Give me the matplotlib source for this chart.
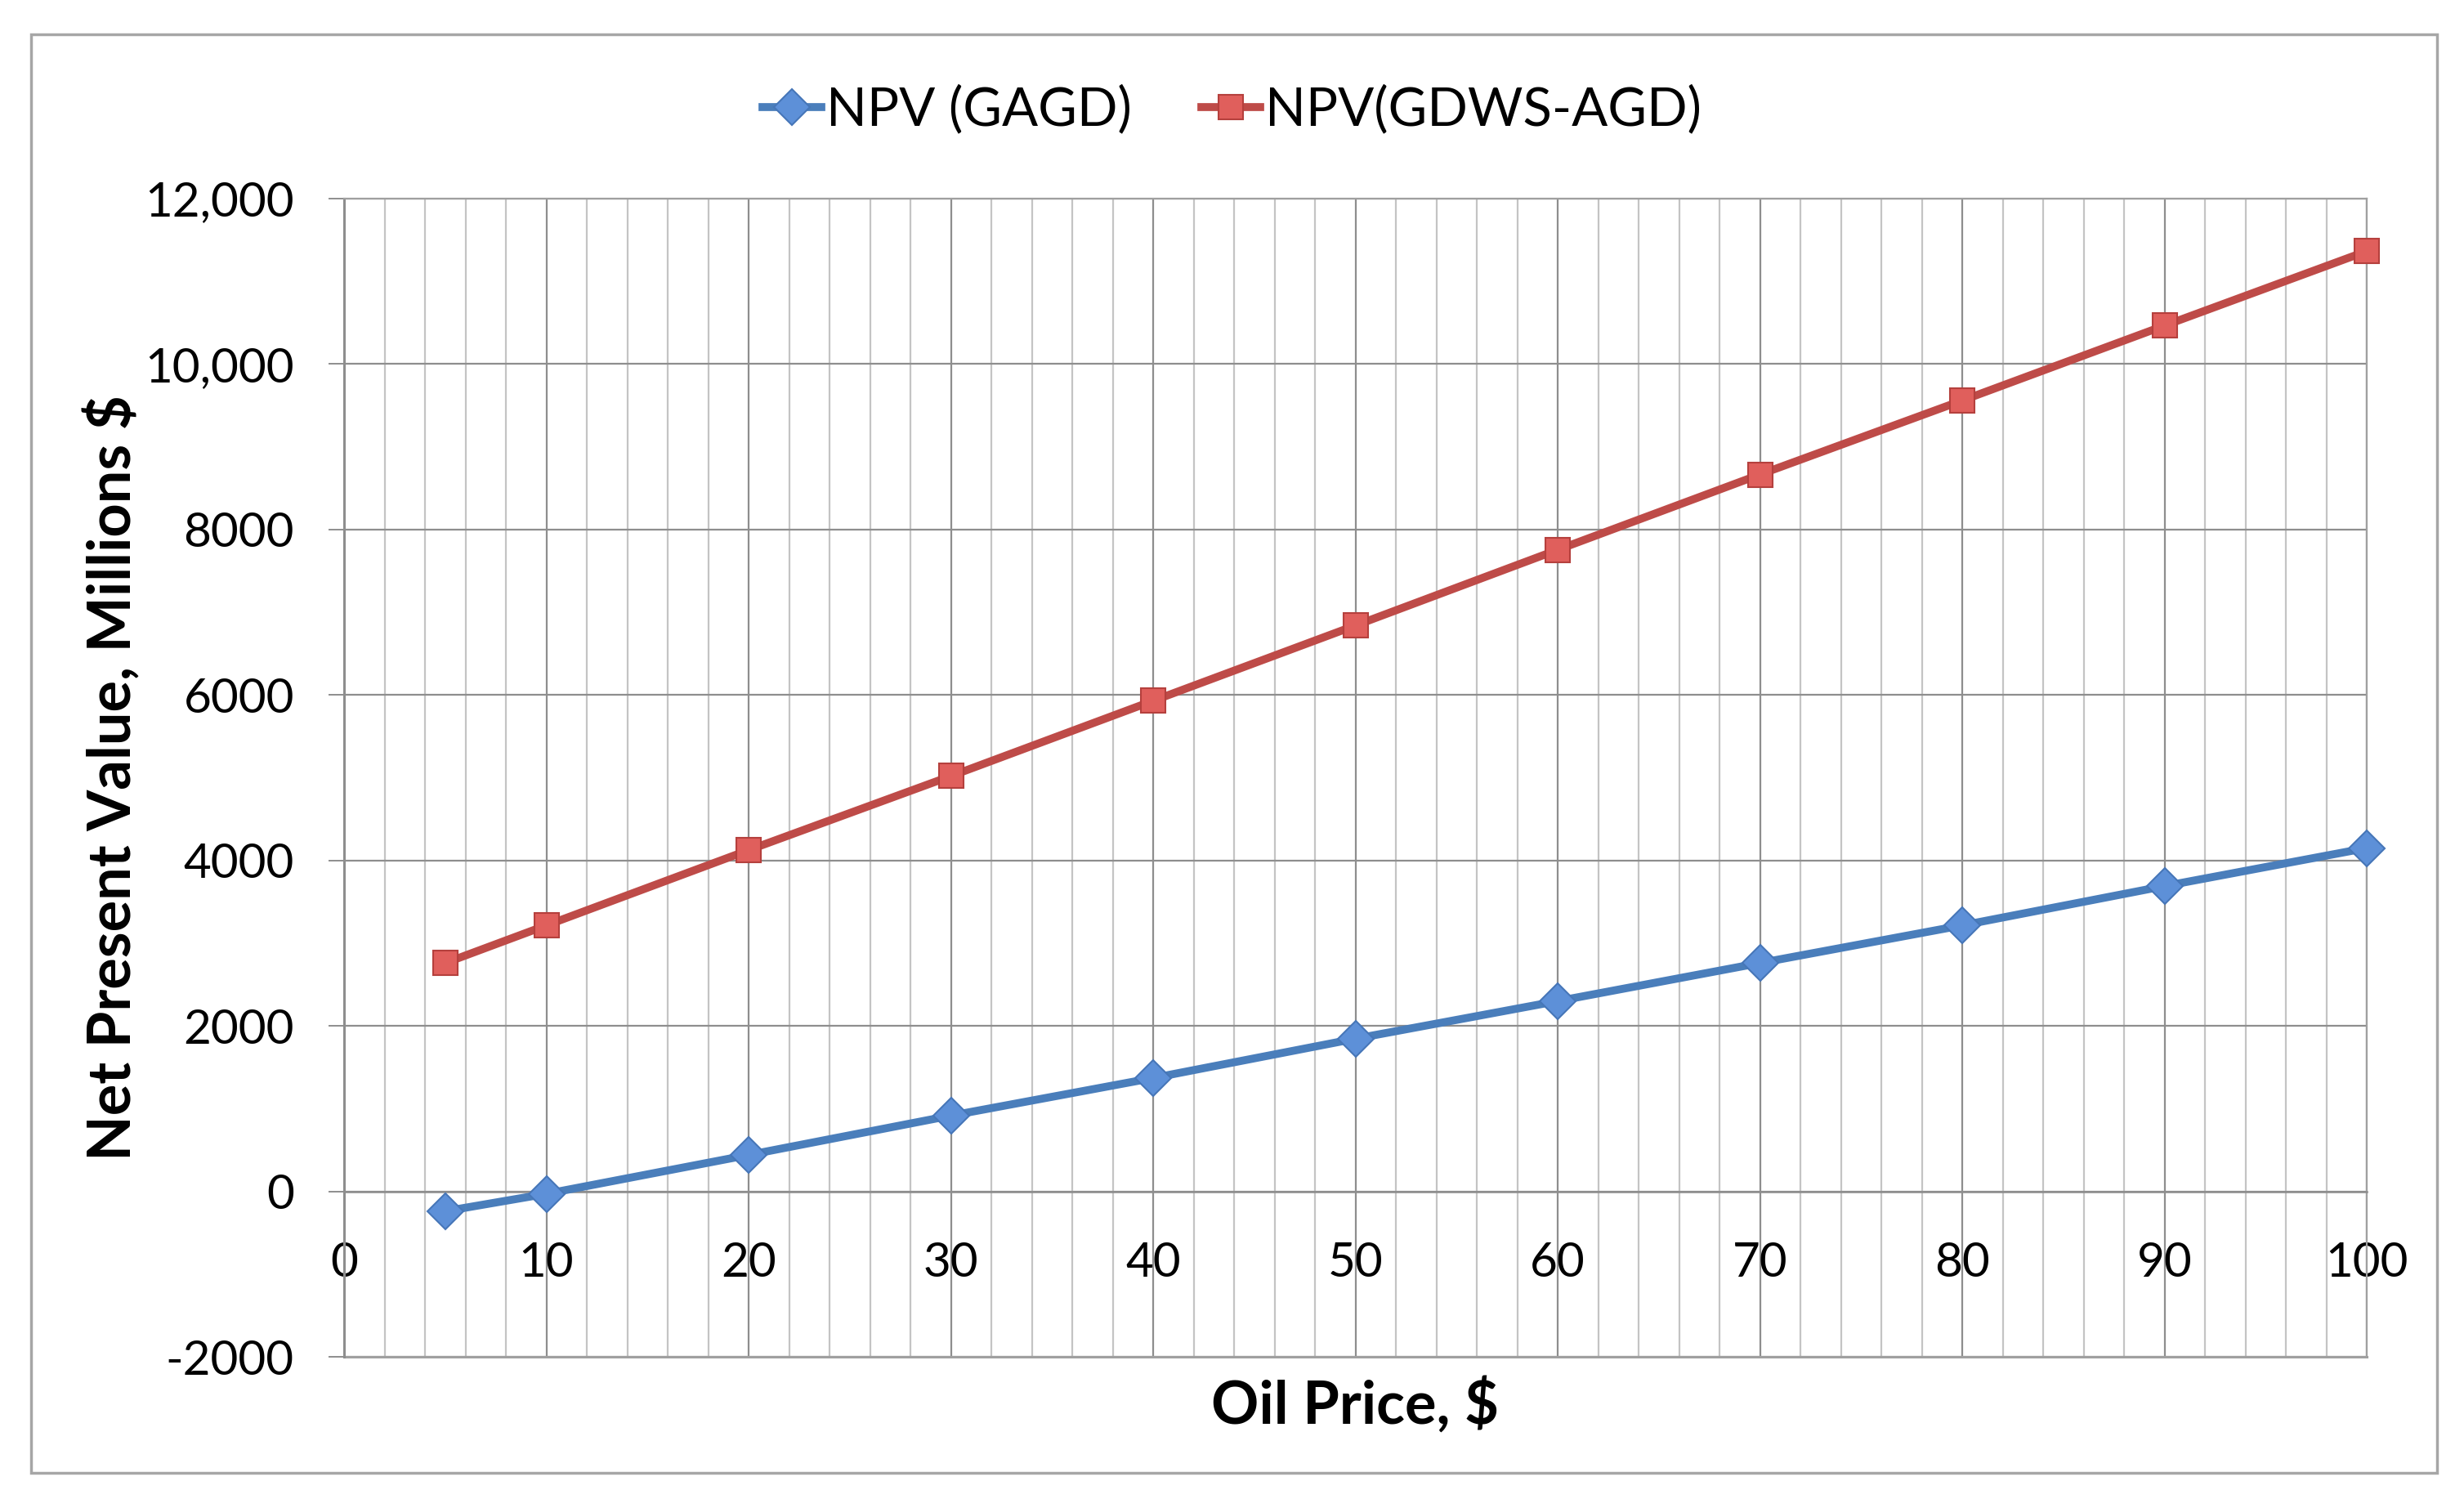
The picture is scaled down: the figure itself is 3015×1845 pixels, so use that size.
import matplotlib
matplotlib.use("Agg")
import matplotlib.pyplot as plt
from matplotlib.patches import Rectangle
from matplotlib.ticker import MultipleLocator, FixedLocator, FixedFormatter

plt.rcParams['font.family'] = ['Lato', 'DejaVu Sans']

oil_price = [5, 10, 20, 30, 40, 50, 60, 70, 80, 90, 100]
npv_gagd = [-240, -30, 440, 915, 1370, 1845, 2300, 2760, 3215, 3690, 4150]
npv_gdws_agd = [2760, 3215, 4125, 5020, 5930, 6840, 7755, 8665, 9560, 10465, 11365]
series_labels = ['NPV (GAGD)', 'NPV(GDWS-AGD)']
y_ticks = [-2000, 0, 2000, 4000, 6000, 8000, 10000, 12000]
y_ticklabels = ['-2000', '0', '2000', '4000', '6000', '8000', '10,000', '12,000']
x_ticks = [0, 10, 20, 30, 40, 50, 60, 70, 80, 90, 100]

W, H = 3015, 1845
fig = plt.figure(figsize=(W / 100, H / 100), dpi=100)
x0, x1, ytop, ybot = 421, 2896, 243, 1660
ax = fig.add_axes([x0 / W, 1 - ybot / H, (x1 - x0) / W, (ybot - ytop) / H])

ax.set_xlim(0, 100)
ax.set_ylim(-2000, 12000)

ax.xaxis.set_major_locator(FixedLocator(x_ticks))
ax.xaxis.set_minor_locator(MultipleLocator(2))
ax.yaxis.set_major_locator(FixedLocator(y_ticks))
ax.yaxis.set_major_formatter(FixedFormatter(y_ticklabels))

ax.grid(which='major', axis='both', color='#8e8e8e', lw=1.6, zorder=0)
ax.grid(which='minor', axis='x', color='#c4c4c4', lw=1.6, zorder=0)
ax.set_axisbelow(True)

for s in ['top', 'right']:
    ax.spines[s].set_color('#a0a0a0')
    ax.spines[s].set_linewidth(1.6)
ax.spines['left'].set_color('#8e8e8e')
ax.spines['left'].set_linewidth(2.2)
ax.spines['bottom'].set_position(('data', 0))
ax.spines['bottom'].set_color('#8e8e8e')
ax.spines['bottom'].set_linewidth(1.8)
ax.axhline(-2000, color='#a0a0a0', lw=2.2, clip_on=False, zorder=1)

ax.tick_params(axis='y', which='major', direction='out', length=14, width=1.4,
               color='#8e8e8e', pad=30, labelsize=42)
ax.tick_params(axis='x', which='both', length=0, pad=44, labelsize=42)

ax.plot(oil_price, npv_gagd, color='#4A7EBB', lw=7, marker='D', ms=22,
        mfc='#5D90D8', mec='#4676B8', mew=1.5, label=series_labels[0],
        zorder=4, clip_on=False)
ax.plot(oil_price, npv_gdws_agd, color='#BE4B48', lw=7, marker='s', ms=22,
        mfc='#E05F5C', mec='#B5403D', mew=1.5, label=series_labels[1],
        zorder=4, clip_on=False)

fig.text(138 / W, 1 - 952 / H, 'Net Present Value, Millions $', rotation=90,
         ha='center', va='center', fontsize=52, fontweight='bold')
fig.text(1658 / W, 1 - 1742 / H, 'Oil Price, $', ha='center', va='baseline',
         fontsize=52, fontweight='bold')

leg = fig.legend(loc='center', bbox_to_anchor=(0.5, 1 - 134 / H), ncol=2,
                 frameon=False, fontsize=47, handlelength=1.1, handletextpad=0.1,
                 columnspacing=1.3, numpoints=1, markerscale=1.0)

fig.add_artist(Rectangle((38 / W, 1 - 1802 / H), (2982 - 38) / W, (1802 - 42) / H,
                         fill=False, ec='#a6a6a6', lw=2.5, transform=fig.transFigure))

fig.savefig('out.png', dpi=100, facecolor='white')
